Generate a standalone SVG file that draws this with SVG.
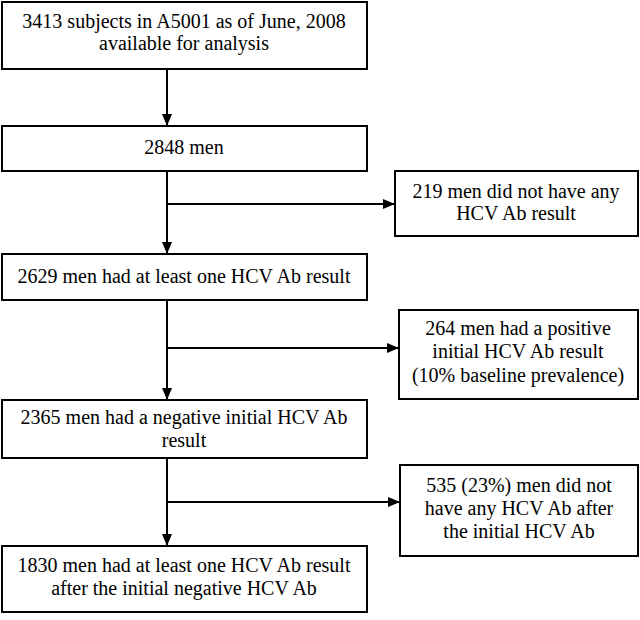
<svg xmlns="http://www.w3.org/2000/svg" width="640" height="620" viewBox="0 0 640 620">
<defs>
<marker id="ah" markerWidth="12" markerHeight="10" refX="12" refY="5" orient="auto" markerUnits="userSpaceOnUse">
<path d="M0,0 L12,5 L0,10 Z" fill="#000"/>
</marker>
<style>
.box{fill:#fff;stroke:#000;stroke-width:2}
.t{font-family:'Liberation Serif','Times New Roman',Tinos,'DejaVu Serif',serif;font-size:20px;fill:#000;text-anchor:middle}
.ln{stroke:#000;stroke-width:2;fill:none}
</style>
</defs>
<rect width="640" height="620" fill="#fff"/>
<g id="connectors">
<line class="ln" x1="167" y1="69" x2="167" y2="126" marker-end="url(#ah)"/>
<line class="ln" x1="167" y1="171" x2="167" y2="254" marker-end="url(#ah)"/>
<line class="ln" x1="167" y1="204" x2="395" y2="204" marker-end="url(#ah)"/>
<line class="ln" x1="167" y1="300" x2="167" y2="400" marker-end="url(#ah)"/>
<line class="ln" x1="167" y1="348" x2="399" y2="348" marker-end="url(#ah)"/>
<line class="ln" x1="167" y1="458" x2="167" y2="546" marker-end="url(#ah)"/>
<line class="ln" x1="167" y1="502" x2="400" y2="502" marker-end="url(#ah)"/>
</g>
<g id="n1"><rect class="box" x="2" y="2" width="365" height="67"/>
<text class="t" x="184" y="28" font-family="Liberation Serif, serif">3413 subjects in A5001 as of June, 2008</text>
<text class="t" x="184" y="50" font-family="Liberation Serif, serif">available for analysis</text></g>
<g id="n2"><rect class="box" x="2" y="126" width="365" height="45"/>
<text class="t" x="184" y="154">2848 men</text></g>
<g id="n3"><rect class="box" x="395" y="171" width="243" height="65"/>
<text class="t" x="516" y="198">219 men did not have any</text>
<text class="t" x="516" y="220">HCV Ab result</text></g>
<g id="n4"><rect class="box" x="2" y="254" width="365" height="46"/>
<text class="t" x="184" y="283">2629 men had at least one HCV Ab result</text></g>
<g id="n5"><rect class="box" x="399" y="310" width="239" height="89"/>
<text class="t" x="518" y="335">264 men had a positive</text>
<text class="t" x="518" y="358">initial HCV Ab result</text>
<text class="t" x="518" y="382">(10% baseline prevalence)</text></g>
<g id="n6"><rect class="box" x="2" y="400" width="365" height="58"/>
<text class="t" x="184" y="424">2365 men had a negative initial HCV Ab</text>
<text class="t" x="184" y="447">result</text></g>
<g id="n7"><rect class="box" x="400" y="465" width="238" height="91"/>
<text class="t" x="519" y="492">535 (23%) men did not</text>
<text class="t" x="519" y="515">have any HCV Ab after</text>
<text class="t" x="519" y="538">the initial HCV Ab</text></g>
<g id="n8"><rect class="box" x="2" y="546" width="365" height="66"/>
<text class="t" x="184" y="572">1830 men had at least one HCV Ab result</text>
<text class="t" x="184" y="595">after the initial negative HCV Ab</text></g>
</svg>
